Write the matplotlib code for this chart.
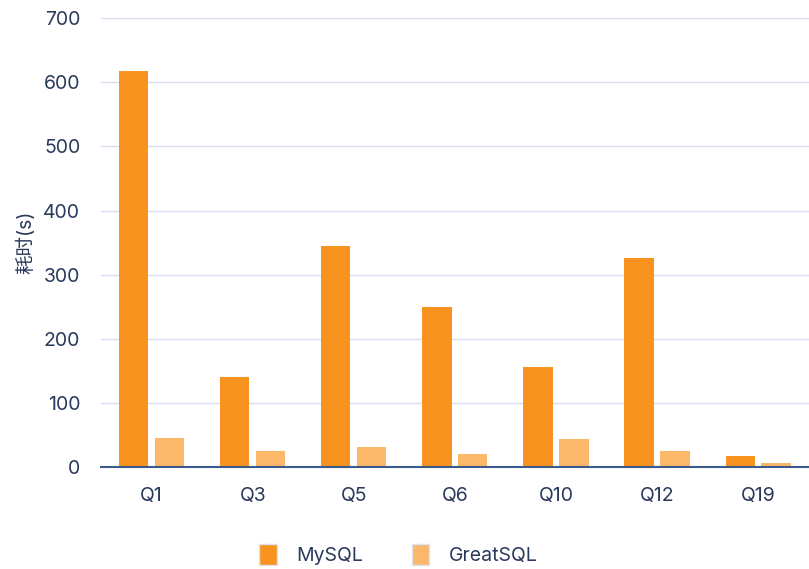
import numpy as np
from matplotlib import pyplot as plt

plt.rcParams['font.family'] = ['Inter', 'Noto Sans CJK SC', 'DejaVu Sans']

queries = ['Q1', 'Q3', 'Q5', 'Q6', 'Q10', 'Q12', 'Q19']
mysql = [618, 140, 345, 250, 156, 326, 18]
greatsql = [45, 25, 31, 20, 44, 25, 6]
yticks = [0, 100, 200, 300, 400, 500, 600, 700]

text_color = '#2b3a5c'
c_mysql = '#f7931e'
c_great = '#fbb76a'

fig = plt.figure(figsize=(8.09, 5.69), dpi=100)
ax = fig.add_axes([0.125, 0.179, 0.875, 0.789])

x = np.arange(len(queries))
w = 0.29
ax.bar(x - 0.18, mysql, w, color=c_mysql, label='MySQL', zorder=3)
ax.bar(x + 0.175, greatsql, w, color=c_great, label='GreatSQL', zorder=3)

ax.set_xlim(-0.5, len(queries) - 0.5)
ax.set_ylim(0, 700)
ax.set_yticks(yticks)
ax.set_xticks(x)
ax.set_xticklabels(queries)
ax.grid(axis='y', color='#d9ddf2', linewidth=1, zorder=0)
for s in ['top', 'right', 'left']:
    ax.spines[s].set_visible(False)
ax.spines['bottom'].set_color('#3d5a8c')
ax.spines['bottom'].set_linewidth(1.5)
ax.spines['bottom'].set_zorder(4)
ax.tick_params(axis='both', length=0, labelsize=14, colors=text_color)
ax.tick_params(axis='y', pad=15)
ax.tick_params(axis='x', pad=14)
ax.set_ylabel('耗时(s)', fontsize=14, color=text_color, labelpad=6)

leg = ax.legend(loc='upper center', bbox_to_anchor=(0.42, -0.132), ncol=2,
                frameon=False, fontsize=14, handlelength=0.9, handleheight=1.3,
                columnspacing=2.5, handletextpad=1.0)
for t in leg.get_texts():
    t.set_color(text_color)
for h in leg.legend_handles:
    h.set_edgecolor('#dde3f0')
    h.set_linewidth(1)

fig.savefig('out.png', dpi=100)
